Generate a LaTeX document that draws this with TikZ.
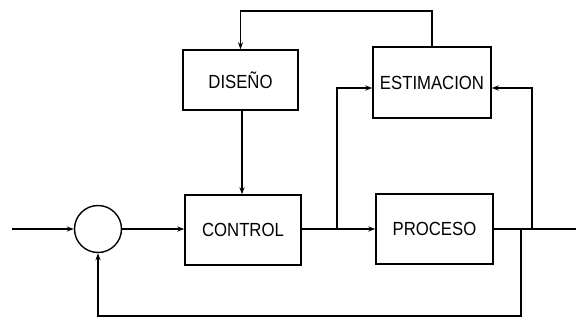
\documentclass[tikz,border=0pt]{standalone}
\usepackage{fontspec}
\setmainfont{Liberation Sans}
\usetikzlibrary{arrows.meta,calc}
\newcommand{\lbltxt}[1]{\scalebox{0.88}[1]{#1}}
\begin{document}
\begin{tikzpicture}[x=1pt,y=-1pt,
  blk/.style={draw,line width=1.4pt,minimum width=#1,inner sep=0pt,font=\fontsize{19}{19}\selectfont},
  wire/.style={line width=1.3pt},
  arr/.style={wire,-{Stealth[length=7pt,width=5pt]}}]
\useasboundingbox (0,0) rectangle (576,324);
\node[draw,circle,line width=1.4pt,minimum size=47pt,inner sep=0pt] (sum) at (98,229) {};
\node[blk=116pt,minimum height=70pt] (control) at (243,230) {\lbltxt{CONTROL}};
\node[blk=115pt,minimum height=60pt] (diseno) at (240.5,80) {\lbltxt{DISEÑO}};
\node[blk=118pt,minimum height=71pt] (estim) at (432,82.5) {\lbltxt{ESTIMACION}};
\node[blk=117pt,minimum height=70pt] (proceso) at (434.5,229) {\lbltxt{PROCESO}};
\coordinate (in) at (12,229);
\coordinate (out) at (576,229);
\coordinate (b1) at (337,229);
\coordinate (b2) at (532,229);
\coordinate (b3) at (521,229);
\coordinate (top) at (433,11);
\coordinate (bot) at (521,316);
\draw[arr] (in) -- (sum);
\draw[arr] (sum) -- (control.west |- sum);
\draw[arr] (control.east |- b1) -- (proceso.west |- b1);
\draw[wire] (proceso.east |- b2) -- (out);
\draw[arr] (b1) -- (b1 |- 0,88) -- (estim.west |- 0,88);
\draw[arr] (b2) -- (b2 |- 0,88) -- (estim.east |- 0,88);
\draw[arr] (b3) -- (bot) -- (sum.south |- bot) -- (sum.south);
\draw[arr] (estim.north) -- (estim.north |- top) -- (diseno.north |- top) -- (diseno.north);
\draw[arr] (diseno.south -| 242,0) -- (control.north -| 242,0);
\end{tikzpicture}
\end{document}
